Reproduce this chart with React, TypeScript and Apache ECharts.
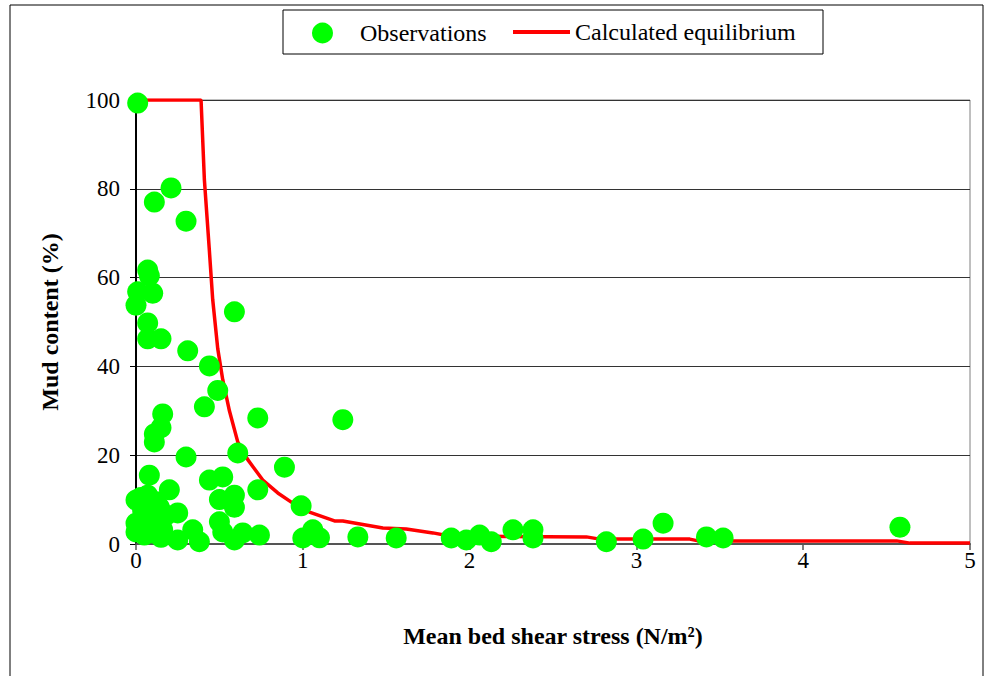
import React, { useEffect, useRef } from "react";
import * as echarts from "echarts";

const xTicks = [0, 1, 2, 3, 4, 5];
const yTicks = [0, 20, 40, 60, 80, 100];

const obsX = [
  0.01, 0.21, 0.11, 0.30, 0.07, 0.08, 0.01, 0.10, 0.00, 0.59,
  0.07, 0.07, 0.15, 0.31, 0.44, 0.49, 0.41, 0.16, 0.73, 1.24,
  0.15, 0.11, 0.11, 0.30, 0.61, 0.89, 0.08, 0.44, 0.52, 0.20,
  0.73, 0.59, 0.50, 0.07, 0.00, 0.99, 0.14, 0.59, 0.25, 0.10,
  0.00, 0.50, 0.00, 0.16, 0.34, 0.52, 0.25, 0.38, 0.59, 0.64,
  0.74, 1.00, 1.06, 1.10, 1.33, 1.56, 1.89, 1.98, 2.06, 2.13,
  2.26, 2.38, 2.38, 2.82, 3.04, 3.16, 3.42, 3.52, 4.58,
  0.04, 0.08, 0.12, 0.05, 0.10, 0.03, 0.12, 0.18, 0.06, 0.15
];
const obsY = [
  99.3, 80.2, 77.0, 72.7, 61.7, 60.4, 56.8, 56.5, 53.8, 52.3,
  49.8, 46.2, 46.2, 43.5, 40.1, 34.6, 30.9, 29.3, 28.4, 28.0,
  26.2, 24.8, 23.0, 19.6, 20.5, 17.3, 15.5, 14.4, 15.1, 12.2,
  12.2, 11.0, 10.0, 11.0, 9.9, 8.6, 8.3, 8.3, 7.0, 5.4,
  4.7, 5.0, 2.7, 3.2, 3.2, 2.7, 0.9, 0.5, 0.9, 2.5,
  2.0, 1.35, 3.2, 1.4, 1.6, 1.35, 1.35, 0.9, 2.0, 0.5,
  3.2, 3.2, 1.35, 0.5, 1.1, 4.7, 1.6, 1.35, 3.8,
  7.5, 6.0, 4.0, 2.0, 2.5, 10.5, 9.5, 6.5, 4.0, 1.5
];

const eqX = [
  0, 0.39, 0.41, 0.44, 0.46, 0.49, 0.52, 0.56, 0.61, 0.67,
  0.76, 0.85, 0.94, 1.04, 1.19, 1.24, 1.48, 1.62, 1.78, 1.88,
  2.7, 2.78, 3.32, 3.37, 4.56, 4.64, 5
];
const eqY = [
  100, 100, 82, 66, 55, 44, 37, 30, 23, 19,
  14.4, 11.5, 9.2, 7.2, 5.2, 5.2, 3.6, 3.4, 2.5, 1.8,
  1.6, 1.1, 1.1, 0.7, 0.7, 0.2, 0.2
];

const FONT = "'Liberation Serif', 'Times New Roman', serif";

export default function App() {
  const ref = useRef<HTMLDivElement>(null);
  useEffect(() => {
    const chart = echarts.init(ref.current!, null, { renderer: "svg" });
    const obs = obsX.map((x, i) => [x, obsY[i]]);
    const eq = eqX.map((x, i) => [x, eqY[i]]);
    chart.setOption({
      animation: false,
      backgroundColor: "#ffffff",
      textStyle: { fontFamily: FONT },
      graphic: [
        {
          type: "rect",
          shape: { x: 10, y: 5, width: 973, height: 700 },
          style: { fill: "none", stroke: "#000", lineWidth: 1 },
          silent: true,
        },
        {
          type: "rect",
          shape: { x: 283, y: 10, width: 540, height: 44 },
          style: { fill: "none", stroke: "#000", lineWidth: 1 },
          silent: true,
        },
      ],
      legend: [
        {
          data: [{ name: "Observations", icon: "circle" }],
          left: 312,
          top: 21,
          padding: 0,
          itemWidth: 21,
          itemHeight: 21,
          itemGap: 0,
          textStyle: { fontFamily: FONT, fontSize: 24, color: "#000", padding: [0, 0, 0, 22] },
        },
        {
          data: [{ name: "Calculated equilibrium", icon: "rect" }],
          left: 513,
          top: 20,
          padding: 0,
          itemWidth: 57,
          itemHeight: 4,
          textStyle: { fontFamily: FONT, fontSize: 24, color: "#000" },
        },
      ],
      grid: {
        left: 136,
        top: 100,
        right: 18,
        bottom: 132,
        show: true,
        borderColor: "#808080",
        borderWidth: 1,
        backgroundColor: "transparent",
      },
      xAxis: {
        type: "value",
        min: xTicks[0],
        max: xTicks[xTicks.length - 1],
        interval: 1,
        name: "Mean bed shear stress (N/m²)",
        nameLocation: "middle",
        nameGap: 80,
        nameTextStyle: { fontFamily: FONT, fontSize: 24, fontWeight: "bold", color: "#000" },
        axisLine: { show: true, lineStyle: { color: "#555", width: 2 } },
        axisTick: { show: true, inside: false, length: 6, lineStyle: { color: "#555", width: 1.5 } },
        axisLabel: { fontFamily: FONT, fontSize: 23, color: "#000", margin: 5 },
        splitLine: { show: false },
      },
      yAxis: {
        type: "value",
        min: yTicks[0],
        max: yTicks[yTicks.length - 1],
        interval: 20,
        name: "Mud content (%)",
        nameLocation: "middle",
        nameGap: 74,
        nameTextStyle: { fontFamily: FONT, fontSize: 24, fontWeight: "bold", color: "#000" },
        axisLine: { show: true, lineStyle: { color: "#000", width: 2 } },
        axisTick: { show: true, inside: false, length: 6, lineStyle: { color: "#000", width: 1 } },
        axisLabel: { fontFamily: FONT, fontSize: 23, color: "#000", margin: 16 },
        splitLine: { show: true, lineStyle: { color: "#333", width: 1 } },
      },
      series: [
        {
          name: "Calculated equilibrium",
          type: "line",
          data: eq,
          symbol: "none",
          showSymbol: false,
          lineStyle: { color: "#ff0000", width: 3.5 },
          itemStyle: { color: "#ff0000" },
          z: 2,
        },
        {
          name: "Observations",
          type: "scatter",
          data: obs,
          symbol: "circle",
          symbolSize: 21,
          itemStyle: { color: "#00ff00", opacity: 1 },
          z: 3,
        },
      ],
    });
    return () => chart.dispose();
  }, []);
  return (
    <div
      ref={ref}
      style={{ position: "fixed", left: 0, top: 0, width: 988, height: 676, background: "#fff" }}
    />
  );
}
